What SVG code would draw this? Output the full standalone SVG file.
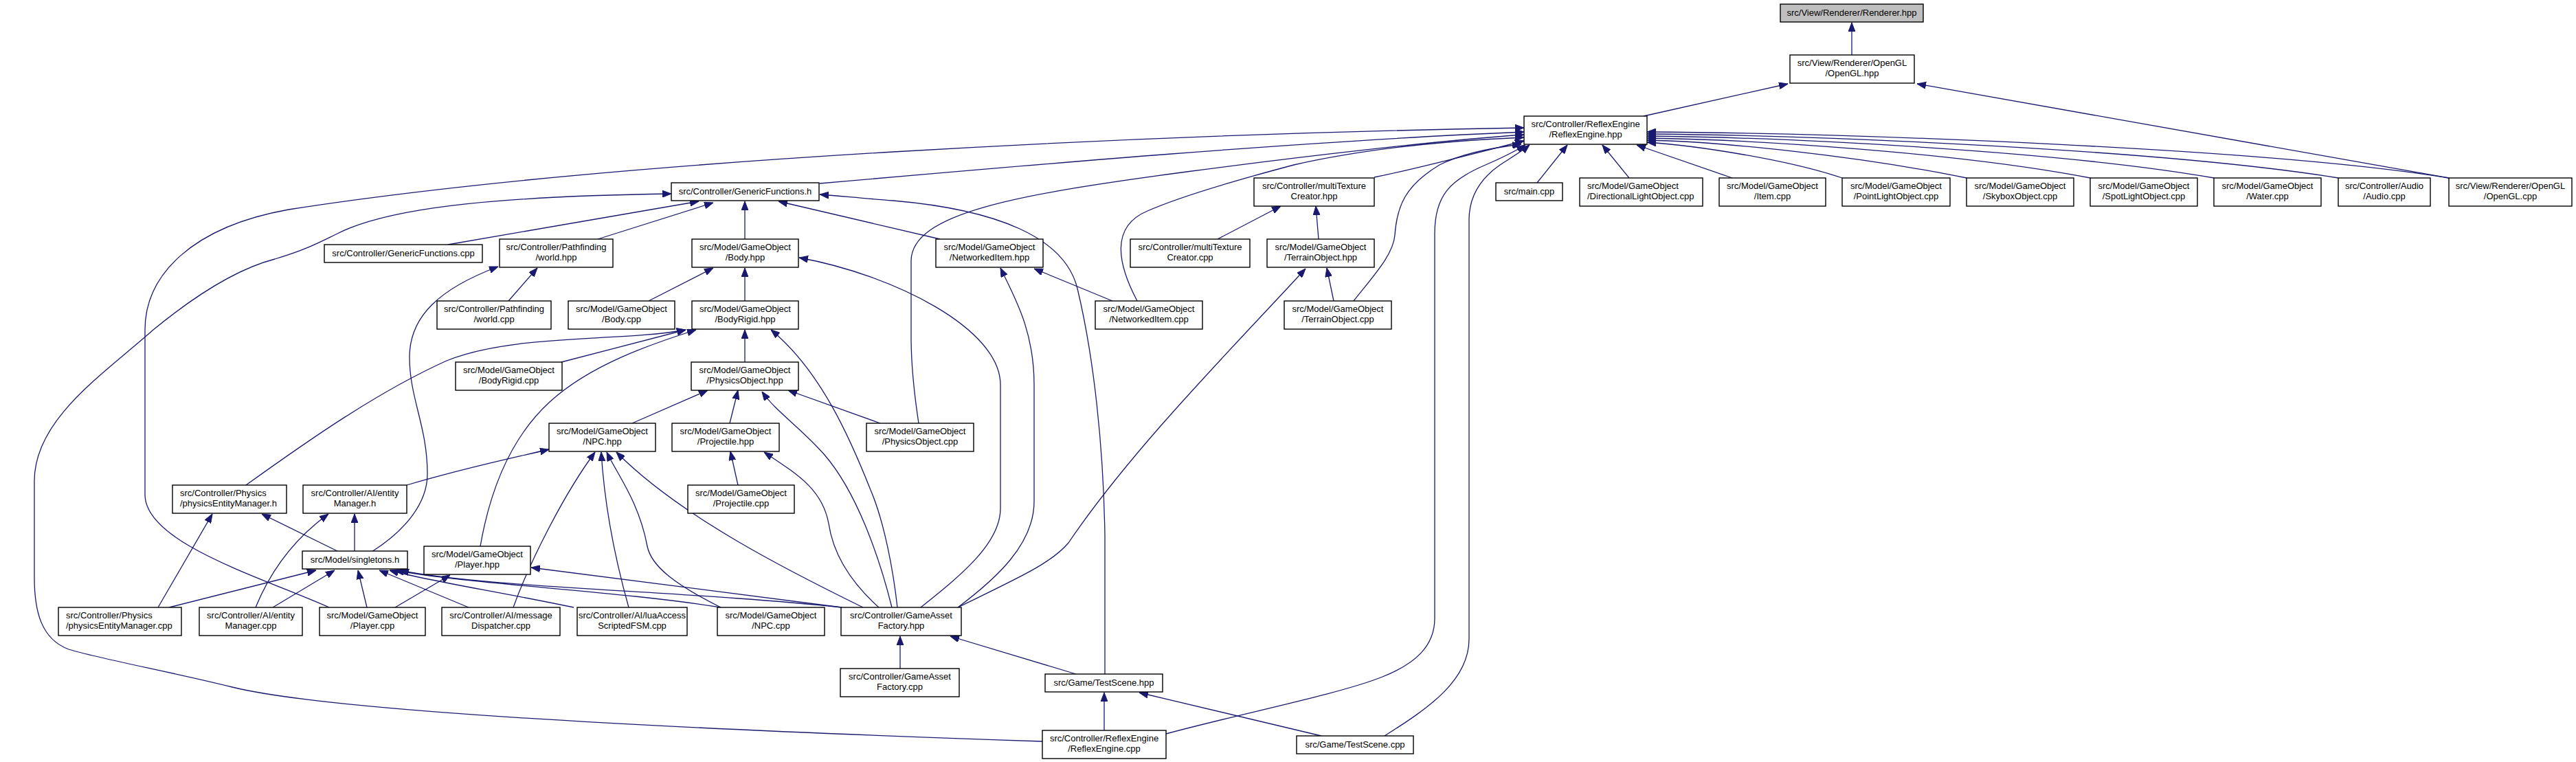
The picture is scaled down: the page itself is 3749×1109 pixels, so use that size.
<svg xmlns="http://www.w3.org/2000/svg" width="3749" height="1109" viewBox="0 0 3749 1109">
<defs>
<marker id="a" viewBox="0 0 13 10" refX="13" refY="5" markerWidth="13" markerHeight="10" markerUnits="userSpaceOnUse" orient="auto"><path d="M0,0 L13,5 L0,10 z" fill="#191970" stroke="#191970" stroke-width="1"/></marker>
</defs>
<style>
rect{fill:#fff;stroke:#000;stroke-width:1.4}
rect.root{fill:#bfbfbf}
text{font-family:"Liberation Sans",Arial,sans-serif;font-size:13px;text-anchor:middle;fill:#000}
text.l{text-anchor:start}
#edges path{fill:none;stroke:#191970;stroke-width:1.3;marker-end:url(#a)}
</style>
<rect x="0" y="0" width="3749" height="1109" style="fill:#fff;stroke:none"/>
<g id="edges">
<path d="M2695,80 L2695,33"/>
<path d="M2392,169 L2602,122"/>
<path d="M3564,259 L2790,122"/>
<path d="M2237,266 L2281,211"/>
<path d="M2371,259 L2332,211"/>
<path d="M2521,259 L2382,211"/>
<path d="M2681,259 C2600,232 2470,212 2397,207"/>
<path d="M2862,259 C2700,226 2500,206 2397,204"/>
<path d="M3042,259 C2850,222 2550,203 2397,201"/>
<path d="M3222,259 C3000,220 2600,200 2397,198"/>
<path d="M3403,259 C3150,218 2650,197 2397,195"/>
<path d="M3564,259 C3300,216 2700,194 2397,192"/>
<path d="M1193,267 C1500,240 1900,205 2218,192"/>
<path d="M479,884 C380,840 211,790 211,720 L211,480 C211,400 280,330 420,305 C900,230 1700,195 2218,186"/>
<path d="M1337,616 C1330,570 1326,530 1326,490 L1326,380 C1326,310 1480,283 1727,250 C1900,227 2100,204 2218,196"/>
<path d="M1655,438 C1627,385 1615,330 1670,307 C1720,285 1800,262 1883,240 C1980,218 2100,205 2218,200"/>
<path d="M2000,258 C2060,246 2120,230 2218,205"/>
<path d="M1970,438 C2000,400 2028,370 2030,342 C2033,300 2045,270 2095,240 C2130,222 2180,214 2214,210"/>
<path d="M1697,1068 C1800,1040 1950,1010 2012,985 C2060,966 2088,940 2088,900 L2088,340 C2088,285 2110,262 2162,240 C2190,228 2205,220 2220,211"/>
<path d="M2015,1071 C2080,1030 2138,990 2138,930 L2138,320 C2138,280 2160,256 2183,240 C2200,229 2215,220 2226,211"/>
<path d="M1517,1079 C1100,1065 500,1040 338,1000 C250,978 150,960 100,945 C60,930 50,890 50,840 L50,700 C50,610 150,545 223,480 C290,425 350,390 400,377 C450,362 470,350 491,340 C560,305 700,286 977,282"/>
<path d="M652,356 L1017,293"/>
<path d="M870,348 L1038,295"/>
<path d="M1084,348 L1084,293"/>
<path d="M1368,348 L1133,293"/>
<path d="M1608,981 L1608,780 C1606,650 1592,520 1568,420 C1550,345 1450,305 1300,292 C1260,289 1230,286 1193,283"/>
<path d="M1772,348 L1864,300"/>
<path d="M1919,348 L1915,300"/>
<path d="M1941,438 L1931,390"/>
<path d="M1619,438 L1505,391"/>
<path d="M740,438 L782,390"/>
<path d="M944,438 L1038,390"/>
<path d="M1084,438 L1084,390"/>
<path d="M817,527 L998,480"/>
<path d="M358,706 C450,640 550,570 650,525 C750,485 900,498 998,480"/>
<path d="M699,795 C712,720 740,640 800,585 C860,530 950,500 1013,480"/>
<path d="M1084,527 L1084,480"/>
<path d="M1306,884 C1300,830 1287,760 1267,713 C1238,640 1195,540 1122,480"/>
<path d="M920,616 L1030,568"/>
<path d="M1062,616 L1074,568"/>
<path d="M1281,616 L1147,568"/>
<path d="M1298,884 C1282,820 1250,720 1200,662 C1165,622 1130,600 1109,570"/>
<path d="M1074,706 L1063,657"/>
<path d="M1279,884 C1232,842 1212,802 1206,762 C1197,712 1160,690 1112,658"/>
<path d="M592,706 C680,680 740,668 799,654"/>
<path d="M747,884 C770,820 820,720 866,658"/>
<path d="M915,884 C897,820 880,740 875,658"/>
<path d="M1049,884 C985,852 948,825 942,795 C930,730 898,690 883,658"/>
<path d="M1256,884 C1150,832 990,752 897,658"/>
<path d="M1340,884 C1395,840 1456,792 1456,740 L1456,560 C1456,478 1300,400 1163,375"/>
<path d="M1394,884 C1450,842 1505,792 1505,730 L1505,560 C1505,480 1476,432 1456,390"/>
<path d="M1394,884 C1480,842 1530,820 1555,790 C1650,650 1800,500 1900,391"/>
<path d="M493,803 L381,748"/>
<path d="M516,803 L516,748"/>
<path d="M541,803 C590,772 622,732 622,690 C622,620 596,580 596,520 C596,460 640,420 725,388"/>
<path d="M230,884 L309,748"/>
<path d="M372,884 C390,840 420,790 478,748"/>
<path d="M246,884 L460,830"/>
<path d="M397,884 L487,830"/>
<path d="M534,884 L521,830"/>
<path d="M682,884 L552,830"/>
<path d="M835,884 C720,860 620,845 567,830"/>
<path d="M1049,884 C900,860 680,850 575,830"/>
<path d="M1225,884 C1000,860 700,855 582,830"/>
<path d="M575,884 L655,837"/>
<path d="M1225,884 L773,826"/>
<path d="M1310,973 L1310,926"/>
<path d="M1566,981 L1383,926"/>
<path d="M1607,1063 L1607,1008"/>
<path d="M1923,1071 L1658,1008"/>
</g>
<g id="n_renderer_hpp"><rect class="root" x="2591" y="6" width="208" height="26"/><text x="2695" y="23">src/View/Renderer/Renderer.hpp</text></g>
<g id="n_opengl_hpp"><rect x="2605" y="80" width="181" height="41"/><text x="2695.5" y="96">src/View/Renderer/OpenGL</text><text x="2695.5" y="111">/OpenGL.hpp</text></g>
<g id="n_reflexengine_hpp"><rect x="2218" y="169" width="179" height="41"/><text x="2307.5" y="185">src/Controller/ReflexEngine</text><text x="2307.5" y="200">/ReflexEngine.hpp</text></g>
<g id="n_main_cpp"><rect x="2177" y="266" width="97" height="26"/><text x="2225.5" y="283">src/main.cpp</text></g>
<g id="n_directionallight_cpp"><rect x="2299" y="259" width="179" height="41"/><text class="l" x="2310" y="275">src/Model/GameObject</text><text class="l" x="2310" y="290">/DirectionalLightObject.cpp</text></g>
<g id="n_item_cpp"><rect x="2502" y="259" width="155" height="41"/><text x="2579.5" y="275">src/Model/GameObject</text><text x="2579.5" y="290">/Item.cpp</text></g>
<g id="n_pointlight_cpp"><rect x="2681" y="259" width="157" height="41"/><text x="2759.5" y="275">src/Model/GameObject</text><text x="2759.5" y="290">/PointLightObject.cpp</text></g>
<g id="n_skybox_cpp"><rect x="2862" y="259" width="156" height="41"/><text x="2940" y="275">src/Model/GameObject</text><text x="2940" y="290">/SkyboxObject.cpp</text></g>
<g id="n_spotlight_cpp"><rect x="3042" y="259" width="156" height="41"/><text x="3120" y="275">src/Model/GameObject</text><text x="3120" y="290">/SpotLightObject.cpp</text></g>
<g id="n_water_cpp"><rect x="3222" y="259" width="156" height="41"/><text x="3300" y="275">src/Model/GameObject</text><text x="3300" y="290">/Water.cpp</text></g>
<g id="n_audio_cpp"><rect x="3403" y="259" width="134" height="41"/><text x="3470" y="275">src/Controller/Audio</text><text x="3470" y="290">/Audio.cpp</text></g>
<g id="n_opengl_cpp"><rect x="3564" y="259" width="179" height="41"/><text x="3653.5" y="275">src/View/Renderer/OpenGL</text><text x="3653.5" y="290">/OpenGL.cpp</text></g>
<g id="n_genericfunctions_h"><rect x="977" y="266" width="215" height="26"/><text x="1084.5" y="283">src/Controller/GenericFunctions.h</text></g>
<g id="n_multitexture_hpp"><rect x="1825" y="259" width="175" height="41"/><text x="1912.5" y="275">src/Controller/multiTexture</text><text x="1912.5" y="290">Creator.hpp</text></g>
<g id="n_genericfunctions_cpp"><rect x="472" y="356" width="230" height="26"/><text x="587" y="373">src/Controller/GenericFunctions.cpp</text></g>
<g id="n_world_hpp"><rect x="727" y="348" width="165" height="41"/><text x="809.5" y="364">src/Controller/Pathfinding</text><text x="809.5" y="379">/world.hpp</text></g>
<g id="n_body_hpp"><rect x="1007" y="348" width="155" height="41"/><text x="1084.5" y="364">src/Model/GameObject</text><text x="1084.5" y="379">/Body.hpp</text></g>
<g id="n_networkeditem_hpp"><rect x="1362" y="348" width="156" height="41"/><text x="1440" y="364">src/Model/GameObject</text><text x="1440" y="379">/NetworkedItem.hpp</text></g>
<g id="n_multitexture_cpp"><rect x="1645" y="348" width="174" height="41"/><text x="1732" y="364">src/Controller/multiTexture</text><text x="1732" y="379">Creator.cpp</text></g>
<g id="n_terrain_hpp"><rect x="1844" y="348" width="156" height="41"/><text x="1922" y="364">src/Model/GameObject</text><text x="1922" y="379">/TerrainObject.hpp</text></g>
<g id="n_world_cpp"><rect x="636" y="438" width="166" height="41"/><text x="719" y="454">src/Controller/Pathfinding</text><text x="719" y="469">/world.cpp</text></g>
<g id="n_body_cpp"><rect x="827" y="438" width="155" height="41"/><text x="904.5" y="454">src/Model/GameObject</text><text x="904.5" y="469">/Body.cpp</text></g>
<g id="n_bodyrigid_hpp"><rect x="1007" y="438" width="155" height="41"/><text x="1084.5" y="454">src/Model/GameObject</text><text x="1084.5" y="469">/BodyRigid.hpp</text></g>
<g id="n_networkeditem_cpp"><rect x="1594" y="438" width="156" height="41"/><text x="1672" y="454">src/Model/GameObject</text><text x="1672" y="469">/NetworkedItem.cpp</text></g>
<g id="n_terrain_cpp"><rect x="1869" y="438" width="156" height="41"/><text x="1947" y="454">src/Model/GameObject</text><text x="1947" y="469">/TerrainObject.cpp</text></g>
<g id="n_bodyrigid_cpp"><rect x="663" y="527" width="155" height="41"/><text x="740.5" y="543">src/Model/GameObject</text><text x="740.5" y="558">/BodyRigid.cpp</text></g>
<g id="n_physicsobject_hpp"><rect x="1006" y="527" width="156" height="41"/><text x="1084" y="543">src/Model/GameObject</text><text x="1084" y="558">/PhysicsObject.hpp</text></g>
<g id="n_npc_hpp"><rect x="799" y="616" width="155" height="41"/><text x="876.5" y="632">src/Model/GameObject</text><text x="876.5" y="647">/NPC.hpp</text></g>
<g id="n_projectile_hpp"><rect x="978" y="616" width="156" height="41"/><text x="1056" y="632">src/Model/GameObject</text><text x="1056" y="647">/Projectile.hpp</text></g>
<g id="n_physicsobject_cpp"><rect x="1261" y="616" width="156" height="41"/><text x="1339" y="632">src/Model/GameObject</text><text x="1339" y="647">/PhysicsObject.cpp</text></g>
<g id="n_physicsentitymanager_h"><rect x="251" y="706" width="166" height="41"/><text class="l" x="262" y="722">src/Controller/Physics</text><text class="l" x="262" y="737">/physicsEntityManager.h</text></g>
<g id="n_ai_entitymanager_h"><rect x="441" y="706" width="151" height="41"/><text x="516.5" y="722">src/Controller/AI/entity</text><text x="516.5" y="737">Manager.h</text></g>
<g id="n_projectile_cpp"><rect x="1001" y="706" width="155" height="41"/><text x="1078.5" y="722">src/Model/GameObject</text><text x="1078.5" y="737">/Projectile.cpp</text></g>
<g id="n_player_hpp"><rect x="617" y="795" width="155" height="41"/><text x="694.5" y="811">src/Model/GameObject</text><text x="694.5" y="826">/Player.hpp</text></g>
<g id="n_singletons_h"><rect x="440" y="802" width="153" height="26"/><text x="516.5" y="819">src/Model/singletons.h</text></g>
<g id="n_physicsentitymanager_cpp"><rect x="85" y="884" width="179" height="41"/><text class="l" x="96" y="900">src/Controller/Physics</text><text class="l" x="96" y="915">/physicsEntityManager.cpp</text></g>
<g id="n_ai_entitymanager_cpp"><rect x="290" y="884" width="150" height="41"/><text x="365" y="900">src/Controller/AI/entity</text><text x="365" y="915">Manager.cpp</text></g>
<g id="n_player_cpp"><rect x="465" y="884" width="154" height="41"/><text x="542" y="900">src/Model/GameObject</text><text x="542" y="915">/Player.cpp</text></g>
<g id="n_messagedispatcher_cpp"><rect x="643" y="884" width="172" height="41"/><text x="729" y="900">src/Controller/AI/message</text><text x="729" y="915">Dispatcher.cpp</text></g>
<g id="n_luaaccess_cpp"><rect x="840" y="884" width="160" height="41"/><text x="920" y="900">src/Controller/AI/luaAccess</text><text x="920" y="915">ScriptedFSM.cpp</text></g>
<g id="n_npc_cpp"><rect x="1044" y="884" width="156" height="41"/><text x="1122" y="900">src/Model/GameObject</text><text x="1122" y="915">/NPC.cpp</text></g>
<g id="n_gameassetfactory_hpp"><rect x="1224" y="884" width="175" height="41"/><text x="1311.5" y="900">src/Controller/GameAsset</text><text x="1311.5" y="915">Factory.hpp</text></g>
<g id="n_gameassetfactory_cpp"><rect x="1223" y="973" width="173" height="41"/><text x="1309.5" y="989">src/Controller/GameAsset</text><text x="1309.5" y="1004">Factory.cpp</text></g>
<g id="n_testscene_hpp"><rect x="1521" y="981" width="171" height="26"/><text x="1606.5" y="998">src/Game/TestScene.hpp</text></g>
<g id="n_reflexengine_cpp"><rect x="1517" y="1063" width="180" height="41"/><text x="1607" y="1079">src/Controller/ReflexEngine</text><text x="1607" y="1094">/ReflexEngine.cpp</text></g>
<g id="n_testscene_cpp"><rect x="1887" y="1071" width="170" height="26"/><text x="1972" y="1088">src/Game/TestScene.cpp</text></g>
</svg>
